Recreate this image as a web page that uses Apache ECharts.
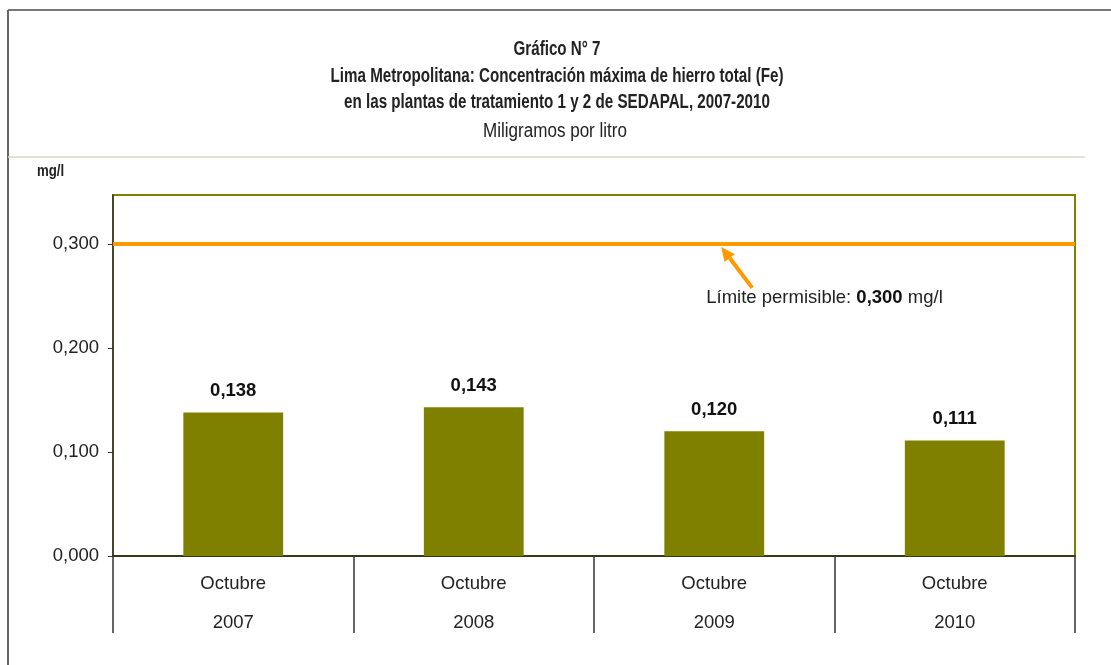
<!DOCTYPE html>
<html>
<head>
<meta charset="utf-8">
<script src="https://cdn.jsdelivr.net/npm/echarts@6/dist/echarts.min.js"></script>
<style>
  html, body { margin: 0; padding: 0; background: #fff; }
  #chart { width: 1111px; height: 665px; }
</style>
</head>
<body>
<div id="chart"></div>
<script>
// datos del gráfico
const months = ['Octubre', 'Octubre', 'Octubre', 'Octubre'];
const years = ['2007', '2008', '2009', '2010'];
const hierro = [0.138, 0.143, 0.120, 0.111];
const limite = 0.300;
const yTicks = [0, 0.1, 0.2, 0.3];

const titleLines = [
    'Gráfico N° 7',
    'Lima Metropolitana: Concentración máxima de hierro total (Fe)',
    'en las plantas de tratamiento 1 y 2 de SEDAPAL, 2007-2010'
];
const subtitle = 'Miligramos por litro';
const unit = 'mg/l';

const sans = "'Liberation Sans', Arial, sans-serif";

function fmt(v) {
    return v.toFixed(3).replace('.', ',');
}

// el original usa una fuente estrecha: se comprime la Liberation Sans
const ctx = document.createElement('canvas').getContext('2d');
function textWidth(txt, font) {
    ctx.font = font;
    return ctx.measureText(txt).width;
}
const tSize = 19.5;
const sqz = 453 / textWidth(titleLines[1], 'bold ' + tSize + "px 'Liberation Sans'");
const sqzSub = 144 / textWidth(subtitle, tSize + "px 'Liberation Sans'");

function narrowText(txt, x, y, bold, size, align, scale) {
    return {
        type: 'text',
        x: x, y: y,
        scaleX: scale || sqz,
        style: {
            text: txt,
            x: 0, y: 0,
            align: align || 'center',
            verticalAlign: 'middle',
            fontFamily: 'Liberation Sans',
            fontSize: size,
            fontWeight: bold ? 'bold' : 'normal',
            fill: '#222'
        }
    };
}

const chart = echarts.init(document.getElementById('chart'));

const frame = [
    // marco exterior
    { type: 'line', shape: { x1: 8, y1: 10, x2: 1111, y2: 10 }, style: { stroke: '#777', lineWidth: 2 } },
    { type: 'line', shape: { x1: 8, y1: 10, x2: 8, y2: 665 }, style: { stroke: '#666', lineWidth: 2 } },
    // separador bajo el título
    { type: 'line', shape: { x1: 8, y1: 157, x2: 1085, y2: 157 }, style: { stroke: '#d8dbc2', lineWidth: 1.5 } },
    narrowText(titleLines[0], 557, 50, true, tSize),
    narrowText(titleLines[1], 557, 76.5, true, tSize),
    narrowText(titleLines[2], 557, 103, true, tSize),
    narrowText(subtitle, 555, 132, false, tSize, 'center', sqzSub),
    narrowText(unit, 37, 171, true, 17, 'left')
];

const option = {
    animation: false,
    backgroundColor: '#fff',
    grid: {
        left: 113,
        right: 36,
        top: 195,
        bottom: 109,
        show: true,
        borderColor: '#808000',
        borderWidth: 2
    },
    xAxis: {
        type: 'category',
        data: years,
        boundaryGap: true,
        axisLine: { lineStyle: { color: '#222', width: 1.5 } },
        axisTick: { show: true, length: 77, alignWithLabel: false, lineStyle: { color: '#333', width: 1.5 } },
        axisLabel: {
            margin: 8,
            interval: 0,
            formatter: (v, i) => '{m|' + months[i] + '}\n{y|' + v + '}',
            rich: {
                m: { fontFamily: sans, fontSize: 18.5, color: '#222', lineHeight: 39 },
                y: { fontFamily: sans, fontSize: 18.5, color: '#222', lineHeight: 39 }
            }
        }
    },
    yAxis: {
        type: 'value',
        min: yTicks[0],
        max: 0.347,
        interval: 0.1,
        splitLine: { show: false },
        axisLine: { show: true, lineStyle: { color: '#333', width: 1.5 } },
        axisTick: { show: true, length: 5, lineStyle: { color: '#333' } },
        axisLabel: {
            margin: 14,
            showMaxLabel: false,
            fontFamily: sans,
            fontSize: 18.5,
            color: '#222',
            formatter: v => (yTicks.some(t => Math.abs(t - v) < 1e-6) ? fmt(v) : '')
        }
    },
    series: [
        {
            type: 'bar',
            data: hierro,
            barWidth: '41.5%',
            itemStyle: { color: '#808000' },
            label: {
                show: true,
                position: 'top',
                distance: 12,
                formatter: p => fmt(p.value),
                fontFamily: sans,
                fontSize: 18.5,
                fontWeight: 'bold',
                color: '#111'
            },
            markLine: {
                silent: true,
                symbol: 'none',
                label: { show: false },
                lineStyle: { color: '#FF9900', width: 4, type: 'solid' },
                data: [{ yAxis: limite }]
            }
        }
    ],
    graphic: frame
};

chart.setOption(option);

// flecha y anotación del límite permisible
const tip = chart.convertToPixel({ xAxisIndex: 0, yAxisIndex: 0 }, ['2009', limite]);
const tx = tip[0] + 7, ty = tip[1] + 3;
const ex = tx + 31, ey = ty + 41;
const ang = Math.atan2(ty - ey, tx - ex);
const hl = 14, hw = 6.5;
const bx = tx - hl * Math.cos(ang), by = ty - hl * Math.sin(ang);
const px = -Math.sin(ang) * hw, py = Math.cos(ang) * hw;

chart.setOption({
    graphic: frame.concat([
        { type: 'line', z: 10, shape: { x1: ex, y1: ey, x2: bx, y2: by }, style: { stroke: '#FF9900', lineWidth: 4 } },
        { type: 'polygon', z: 10, shape: { points: [[tx, ty], [bx + px, by + py], [bx - px, by - py]] }, style: { fill: '#FF9900' } },
        {
            type: 'text', z: 10,
            left: tx - 15, top: ey + 1,
            style: {
                text: '{n|Límite permisible: }{b|' + fmt(limite) + '}{n| mg/l}',
                rich: {
                    n: { fontFamily: sans, fontSize: 18.5, fill: '#222' },
                    b: { fontFamily: sans, fontSize: 18.5, fontWeight: 'bold', fill: '#111' }
                }
            }
        }
    ])
});
</script>
</body>
</html>
